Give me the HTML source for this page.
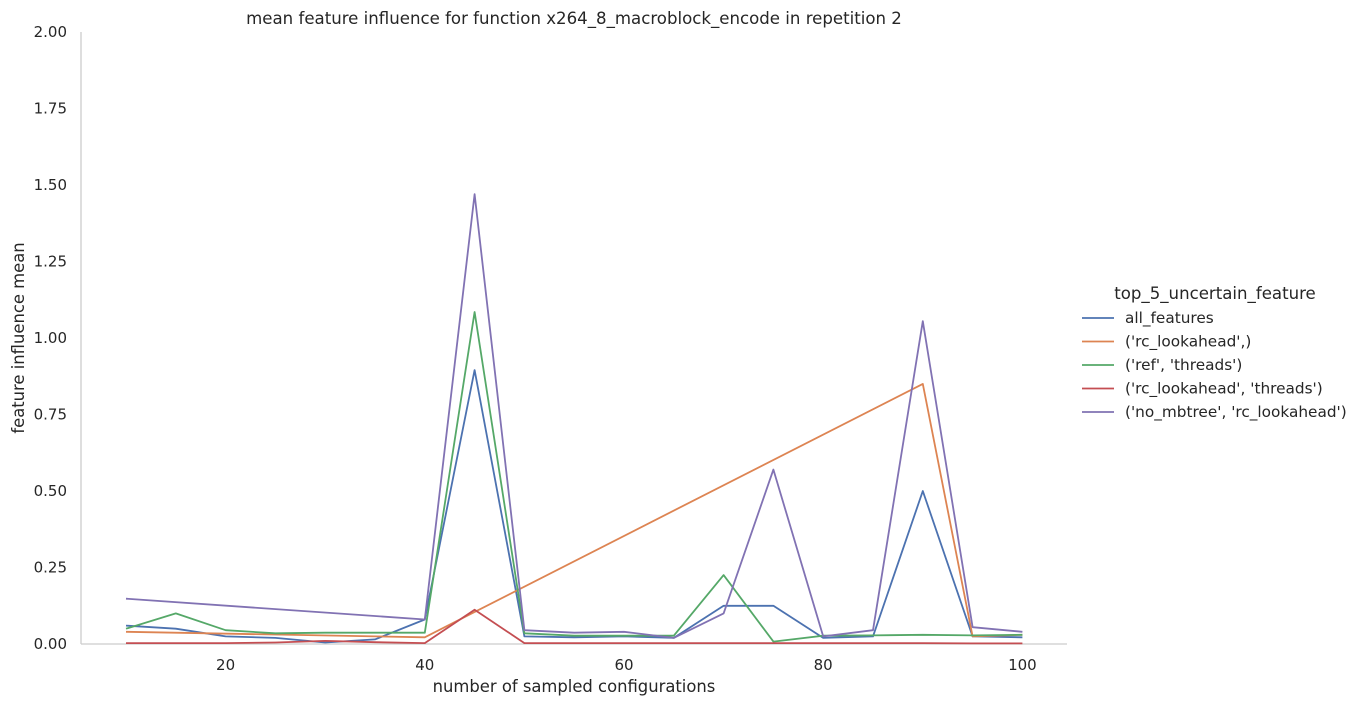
<!DOCTYPE html>
<html><head><meta charset="utf-8"><style>
body{margin:0;background:#fff;}
svg text{font-family:"DejaVu Sans","Liberation Sans",sans-serif;fill:#262626;}
</style></head><body>
<svg width="1361" height="706" viewBox="0 0 1361 706">
<g id="plot"></g>
<text x="574" y="24" font-size="16.6" text-anchor="middle">mean feature influence for function x264_8_macroblock_encode in repetition 2</text>
<text x="574" y="692" font-size="16.4" text-anchor="middle">number of sampled configurations</text>
<text transform="translate(24,338) rotate(-90)" font-size="16.4" text-anchor="middle">feature influence mean</text>
<g id="legend">
<text x="1215" y="299" font-size="16.6" text-anchor="middle">top_5_uncertain_feature</text>
</g>
</svg>
<script>
const xs = [10,15,20,25,30,35,40,45,50,55,60,65,70,75,80,85,90,95,100];
const blueVals = [0.06,0.05,0.025,0.02,0.005,0.015,0.08,0.895,0.025,0.022,0.025,0.02,0.125,0.125,0.02,0.025,0.5,0.025,0.022];
const orangeX = [10,40,90,95,100];
const orangeVals = [0.04,0.022,0.85,0.025,0.03];
const greenVals = [0.05,0.1,0.045,0.035,0.037,0.037,0.037,1.085,0.035,0.027,0.027,0.027,0.225,0.008,0.027,0.028,0.03,0.028,0.03];
const redVals = [0.003,0.003,0.003,0.005,0.01,0.006,0.003,0.112,0.003,0.003,0.003,0.003,0.003,0.003,0.003,0.003,0.003,0.002,0.002];
const purpleX = [10,40,45,50,55,60,65,70,75,80,85,90,95,100];
const purpleVals = [0.148,0.08,1.47,0.045,0.037,0.04,0.02,0.1,0.57,0.025,0.045,1.055,0.055,0.04];
const xTicks = [20,40,60,80,100];
const yTicks = [0,0.25,0.5,0.75,1.0,1.25,1.5,1.75,2.0];
const seriesNames = ["all_features","('rc_lookahead',)","('ref', 'threads')","('rc_lookahead', 'threads')","('no_mbtree', 'rc_lookahead')"];
const colors = ["#4c72b0","#dd8452","#55a868","#c44e52","#8172b3"];

const NS="http://www.w3.org/2000/svg";
const X = v => 26.4 + (v)*9.96;
const Y = v => 644 - v*306;
const plot=document.getElementById('plot');
function mk(tag,attrs,parent){const e=document.createElementNS(NS,tag);for(const k in attrs)e.setAttribute(k,attrs[k]);parent.appendChild(e);return e;}
let s=mk('line',{x1:81,y1:32,x2:81,y2:644,stroke:'#cccccc','stroke-width':1.3},plot);


s=mk('line',{x1:81,y1:644,x2:1067,y2:644,stroke:'#cccccc','stroke-width':1.3},plot);


xTicks.forEach(t=>{const e=mk('text',{x:X(t),y:670,'font-size':15,'text-anchor':'middle'},plot);e.textContent=t;

});
yTicks.forEach(t=>{const e=mk('text',{x:67,y:Y(t)+5,'font-size':15,'text-anchor':'end'},plot);e.textContent=t.toFixed(2);

});
const series=[[xs,blueVals],[orangeX,orangeVals],[xs,greenVals],[xs,redVals],[purpleX,purpleVals]];
const names=['line-all-features','line-rc-lookahead','line-ref-threads','line-rc-lookahead-threads','line-no-mbtree-rc-lookahead'];
series.forEach((sr,i)=>{const pts=sr[0].map((x,j)=>X(x).toFixed(1)+','+Y(sr[1][j]).toFixed(1)).join(' ');
const p=mk('polyline',{points:pts,fill:'none',stroke:colors[i],'stroke-width':1.8,'stroke-linejoin':'round'},plot);

});
const lg=document.getElementById('legend');
seriesNames.forEach((n,i)=>{const y=318+i*23.5;
const l=mk('line',{x1:1082,y1:y,x2:1114,y2:y,stroke:colors[i],'stroke-width':1.8},lg);


const t=mk('text',{x:1125,y:y+5,'font-size':15.3},lg);t.textContent=n;

});
</script>
</body></html>
